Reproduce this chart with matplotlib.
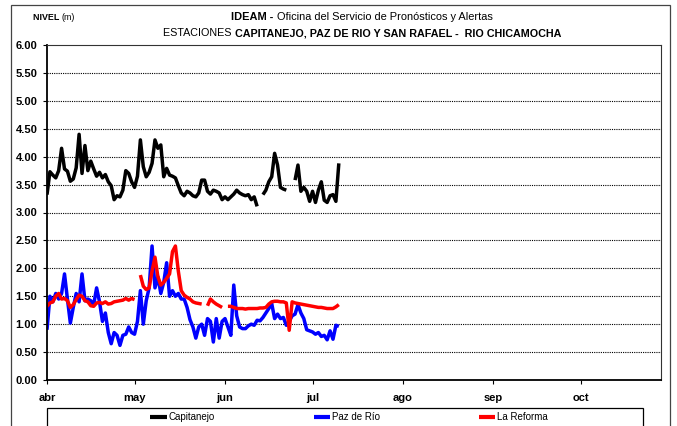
import numpy as np
import pandas as pd
import matplotlib
matplotlib.use("Agg")
import matplotlib.pyplot as plt
from matplotlib import font_manager as fm
from matplotlib.patches import Rectangle

nan = np.nan
start_date = "2011-04-01"
month_labels = ["abr", "may", "jun", "jul", "ago", "sep", "oct"]
series_names = ["Capitanejo", "Paz de Río", "La Reforma"]
series_colors = ["#000000", "#0000FF", "#FF0000"]

capitanejo = [3.32, 3.73, 3.67, 3.62, 3.75, 4.15, 3.78, 3.74, 3.56, 3.60,
              3.80, 4.40, 3.70, 4.20, 3.75, 3.92, 3.78, 3.65, 3.72, 3.62,
              3.68, 3.55, 3.48, 3.23, 3.30, 3.28, 3.40, 3.75, 3.70, 3.55,
              3.45, 3.65, 4.30, 3.82, 3.64, 3.72, 3.88, 4.30, 4.15, 4.21,
              3.64, 3.79, 3.67, 3.65, 3.62, 3.48, 3.35, 3.30, 3.38, 3.35,
              3.30, 3.28, 3.35, 3.58, 3.58, 3.38, 3.33, 3.40, 3.38, 3.35,
              3.23, 3.28, 3.23, 3.28, 3.33, 3.40, 3.35, 3.32, 3.30, 3.32,
              3.23, 3.28, 3.11, nan, 3.32, 3.40, 3.55, 3.64, 4.06, 3.85,
              3.45, 3.42, 3.40, nan, nan, 3.58, 3.85, 3.38, 3.45, 3.38,
              3.20, 3.38, 3.18, 3.40, 3.55, 3.22, 3.18, 3.30, 3.32, 3.20,
              3.88]

paz_de_rio = [0.90, 1.50, 1.40, 1.55, 1.45, 1.55, 1.90, 1.45, 1.02, 1.30,
              1.55, 1.40, 1.90, 1.42, 1.45, 1.42, 1.35, 1.65, 1.40, 1.05,
              1.20, 0.85, 0.65, 0.85, 0.80, 0.62, 0.80, 0.82, 0.95, 0.85,
              0.82, 1.05, 1.60, 1.00, 1.42, 1.65, 2.40, 1.65, 1.85, 1.55,
              1.75, 2.10, 1.50, 1.60, 1.50, 1.55, 1.45, 1.45, 1.30, 1.08,
              0.95, 0.75, 0.95, 1.00, 0.80, 1.10, 1.05, 0.68, 1.10, 0.75,
              1.05, 1.10, 0.95, 0.80, 1.70, 1.15, 0.95, 0.92, 0.92, 0.97,
              1.00, 0.98, 1.07, 1.06, 1.12, 1.20, 1.28, 1.37, 1.10, 1.18,
              1.10, 1.12, 0.98, 1.05, 1.15, 1.18, 1.35, 1.20, 1.10, 0.90,
              0.88, 0.86, 0.82, 0.85, 0.78, 0.80, 0.72, 0.88, 0.73, 0.98,
              0.96]

la_reforma = [1.32, 1.38, 1.40, 1.50, 1.55, 1.45, 1.46, 1.42, 1.30, 1.35,
              1.44, 1.52, 1.50, 1.42, 1.40, 1.33, 1.32, 1.38, 1.39, 1.37,
              1.40, 1.36, 1.37, 1.40, 1.41, 1.42, 1.43, 1.46, 1.43, 1.46,
              1.44, nan, 1.88, 1.68, 1.62, 1.65, 1.95, 2.20, 1.85, 1.70,
              1.75, 1.82, 1.90, 2.30, 2.40, 1.95, 1.60, 1.52, 1.48, 1.45,
              1.40, 1.38, 1.37, 1.36, nan, 1.33, 1.45, 1.40, 1.36, 1.33,
              1.30, nan, 1.32, 1.32, 1.30, 1.28, 1.28, 1.28, 1.27, 1.28,
              1.28, 1.28, 1.28, 1.29, 1.29, 1.30, 1.36, 1.40, 1.41, 1.41,
              1.40, 1.40, 1.38, 0.89, 1.40, 1.38, 1.37, 1.36, 1.35, 1.34,
              1.33, 1.32, 1.31, 1.30, 1.30, 1.29, 1.28, 1.28, 1.28, 1.31,
              1.35]

yticks = [0.0, 0.5, 1.0, 1.5, 2.0, 2.5, 3.0, 3.5, 4.0, 4.5, 5.0, 5.5, 6.0]

# ---------------------------------------------------------------- fonts
names = {f.name for f in fm.fontManager.ttflist}
NARROW = "Liberation Sans Narrow" if "Liberation Sans Narrow" in names else "Liberation Sans"
REG = "Liberation Sans" if "Liberation Sans" in names else "DejaVu Sans"
plt.rcParams["font.family"] = [REG, "DejaVu Sans"]

W, H = 677, 426
fig = plt.figure(figsize=(W / 100, H / 100), dpi=100)
ax = fig.add_axes([47 / W, 1 - 380 / H, (661 - 47) / W, (380 - 45) / H])

dates = pd.date_range(start_date, periods=len(capitanejo), freq="D")
for vals, name, col in zip([capitanejo, paz_de_rio, la_reforma], series_names, series_colors):
    ax.plot(dates, vals, color=col, lw=2.5, label=name, solid_joinstyle="round",
            solid_capstyle="butt")

d0 = pd.Timestamp(start_date)
ax.set_xlim(d0, d0 + pd.Timedelta(days=210.4))
ax.set_ylim(0, 6)
month_starts = pd.date_range(start_date, periods=len(month_labels), freq="MS")
ax.set_xticks(month_starts)
ax.set_xticklabels(month_labels, fontsize=8, fontweight="bold", family=[REG, "DejaVu Sans"])
ax.set_yticks(yticks)
ax.set_yticklabels([f"{v:.2f}" for v in yticks], fontsize=8, fontweight="bold",
                   family=[REG, "DejaVu Sans"])
ax.tick_params(axis="y", direction="out", length=3, width=0.8, pad=4, colors="black")
ax.tick_params(axis="x", direction="out", length=3, width=0.8, pad=6.5, colors="black")

for y in yticks[1:-1]:
    ax.axhline(y, color="black", lw=0.8, ls=(0, (1, 1)), zorder=0.5)
for s in ["left", "bottom"]:
    ax.spines[s].set_linewidth(1.3)
for s in ["top", "right"]:
    ax.spines[s].set_linewidth(0.8)
    ax.spines[s].set_color("#333333")

# ---------------------------------------------------------------- text helpers
renderer = fig.canvas.get_renderer()


def runs(parts, xc, y, fs, target_w=None, align="center"):
    """parts: list of (text, weight). draw sequentially in pixel coords."""
    def make(fsz):
        ts = [fig.text(0, 0, t, fontsize=fsz, fontweight=w, family=[NARROW, REG],
                       va="center", ha="left") for t, w in parts]
        ws = [t.get_window_extent(renderer).width for t in ts]
        return ts, ws
    ts, ws = make(fs)
    if target_w is not None:
        for t in ts:
            t.remove()
        fs = fs * target_w / sum(ws)
        ts, ws = make(fs)
    total = sum(ws)
    x = xc - total / 2 if align == "center" else xc
    for t, w in zip(ts, ws):
        t.set_position((x / W, 1 - y / H))
        x += w


runs([("IDEAM - ", "bold"), ("Oficina del Servicio de Pronósticos y Alertas", "normal")],
     362, 17, 8.5, target_w=258)
runs([("ESTACIONES ", "normal"), ("CAPITANEJO, PAZ DE RIO Y SAN RAFAEL -  RIO CHICAMOCHA", "bold")],
     362, 33, 8.5, target_w=395)
runs([("NIVEL ", "bold"), ("(m)", "normal")], 33, 17, 7, target_w=42, align="left")

# ---------------------------------------------------------------- legend
fig.patches.append(Rectangle((47 / W, -0.02), (643 - 47) / W, (H - 408) / H + 0.02,
                             transform=fig.transFigure, fill=False, ec="black", lw=0.9))
fig.patches.append(Rectangle((11 / W, -0.02), (670 - 11) / W, 1 - 5 / H + 0.02,
                             transform=fig.transFigure, fill=False, ec="#444444", lw=0.9))
leg = fig.legend(loc="center", bbox_to_anchor=(349 / W, 1 - 417 / H), ncol=3,
                 frameon=False, handlelength=1.7, handletextpad=0.15, columnspacing=10.2,
                 prop={"family": [NARROW, REG], "size": 7})
for l in leg.get_lines():
    l.set_linewidth(3)

fig.savefig("out.png", dpi=100)
